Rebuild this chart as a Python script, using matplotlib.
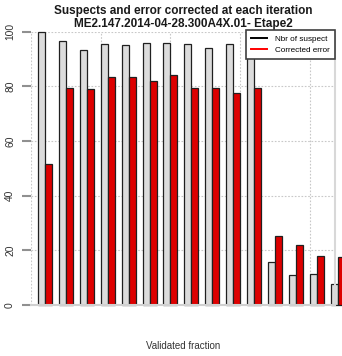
import matplotlib
matplotlib.use("Agg")
import matplotlib.pyplot as plt
from matplotlib.lines import Line2D
import numpy as np

plt.rcParams['font.family'] = ['Liberation Sans', 'DejaVu Sans']

# Per-iteration counts
iterations = list(range(1, 16))
nbr_suspect = [100, 96.4, 93.2, 95.5, 94.9, 95.9, 95.9, 95.5, 94.0, 95.5, 95.5, 15.9, 10.8, 11.2, 7.7]
corrected_error = [51.5, 79.3, 79.1, 83.5, 83.5, 81.8, 84.2, 79.3, 79.3, 77.6, 79.3, 25.1, 21.8, 17.8, 17.5]
y_ticks = [0, 20, 40, 60, 80, 100]
x_grid = [0, 10, 20, 30, 40]

title = "Suspects and error corrected at each iteration\nME2.147.2014-04-28.300A4X.01- Etape2"

W, H = 342, 356
fig = plt.figure(figsize=(W / 100, H / 100), dpi=100)
ax = fig.add_axes([31 / W, (H - 305) / H, (335 - 31) / W, (305 - 31.5) / H])

# Grouped bars laid out like R's barplot(beside=TRUE): one gap unit before each pair
n = len(iterations)
grey_left = np.array([3 * i + 1 for i in range(n)], dtype=float)
red_left = grey_left + 1

ax.bar(grey_left, nbr_suspect, width=1, align='edge', color='#dcdcdc',
       edgecolor='#202020', linewidth=0.9, zorder=2, clip_on=False)
ax.bar(red_left, corrected_error, width=1, align='edge', color='#dd0000',
       edgecolor='#202020', linewidth=0.9, zorder=2, clip_on=False)

ax.set_xlim(0, 43.6)
ax.set_ylim(0, 100)

# dotted grid
for y in y_ticks[1:]:
    ax.axhline(y, color='#c8c8c8', linestyle=(0, (1.5, 1.5)), linewidth=0.8, zorder=1)
for x in x_grid:
    ax.axvline(x, color='#c8c8c8', linestyle=(0, (1.5, 1.5)), linewidth=0.8, zorder=1)

for s in ['top', 'left']:
    ax.spines[s].set_visible(False)
ax.spines['bottom'].set_color('#d0d0d0')
ax.spines['bottom'].set_linewidth(1.5)
ax.spines['right'].set_color('#d8d8d8')
ax.spines['right'].set_linewidth(1.5)

ax.set_xticks([])
ax.set_yticks(y_ticks)
ax.set_yticklabels([str(v) for v in y_ticks], rotation=90, va='center',
                   fontsize=7.4, color='#333333')
ax.tick_params(axis='y', length=6.5, width=1.5, color='#909090', pad=5)

ax.set_title(title, fontsize=8.5, fontweight='bold', color='#1a1a1a',
             pad=3, linespacing=1.15)
ax.set_xlabel("Validated fraction", fontsize=7, color='#333333', labelpad=26)

handles = [Line2D([0], [0], color='black', lw=1.4),
           Line2D([0], [0], color='red', lw=1.4)]
leg = ax.legend(handles, ["Nbr of suspect", "Corrected error"], loc='upper right',
                bbox_to_anchor=(1.0, 1.005), fontsize=5.9, frameon=True,
                fancybox=False, handlelength=2.0, handletextpad=1.0,
                borderpad=0.6, labelspacing=0.4, borderaxespad=0.0)
leg.get_frame().set_edgecolor('#404040')
leg.get_frame().set_linewidth(1.2)
leg.get_frame().set_facecolor('white')
leg.get_frame().set_alpha(1)
leg.set_zorder(5)

fig.savefig("out.png", dpi=100)
